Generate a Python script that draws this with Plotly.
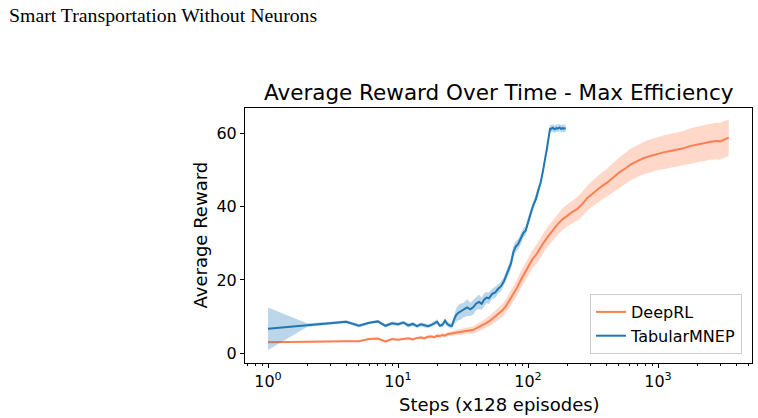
import plotly.graph_objects as go

# ---------------- data ----------------
tab_x = [1, 2, 3, 4, 5, 6, 7, 8, 9, 10, 11, 12, 13, 14, 15, 16, 17, 18, 19, 20,
         21, 22, 23, 24, 25, 26, 27, 28, 29, 30, 32, 34, 36, 38, 40, 42, 44, 46, 48, 50,
         53, 56, 59, 62, 65, 68, 71, 74, 77, 80, 84, 88, 92, 96, 100, 105, 110, 115, 120, 125,
         130, 135, 140, 145, 148, 150, 155, 160, 165, 170, 175, 180, 185, 190, 195]
tab_mean = [6.7, 7.7, 8.2, 8.6, 7.5, 8.3, 8.7, 7.5, 8.2, 7.9, 8.4, 7.6, 8.0, 7.4, 7.9, 7.6, 7.4, 7.7, 8.2, 8.6,
            7.5, 7.8, 8.9, 7.9, 7.6, 7.5, 9.2, 10.4, 11.0, 11.3, 11.8, 12.5, 12.0, 12.6, 13.6, 14.0, 13.5, 14.6, 15.2, 15.0,
            16.2, 16.6, 17.6, 18.3, 19.5, 21.2, 23.0, 24.5, 27.5, 29.0, 29.8, 31.2, 32.8, 33.5, 36.0, 38.2, 40.5, 42.0, 44.5, 46.5,
            49.5, 52.3, 56.0, 59.5, 61.4, 61.2, 61.5, 61.1, 61.4, 61.3, 61.6, 61.2, 61.4, 61.3, 61.4]
tab_spread = [5.8, 0.5, 0.4, 0.4, 0.5, 0.4, 0.4, 0.5, 0.5, 0.5, 0.5, 0.6, 0.5, 0.5, 0.5, 0.6, 0.5, 0.5, 0.6, 0.7,
              0.5, 0.6, 0.7, 0.6, 0.7, 0.8, 1.2, 1.8, 2.0, 2.2, 2.0, 2.3, 1.8, 2.0, 1.8, 2.0, 1.6, 1.8, 1.5, 1.6,
              1.4, 1.5, 1.2, 1.3, 1.2, 1.3, 1.4, 1.5, 1.6, 1.5, 1.4, 1.5, 1.3, 1.2, 1.2, 1.1, 1.0, 1.0, 1.0, 0.9,
              0.9, 0.9, 1.0, 1.0, 1.1, 1.0, 1.0, 1.0, 1.0, 1.0, 1.0, 1.0, 1.0, 1.0, 1.0]

deep_x = [1, 2, 3, 4, 5, 6, 7, 8, 9, 10, 11, 12, 13, 14, 15, 16, 17, 18, 19, 20,
          21, 22, 23, 24, 25, 27, 29, 31, 34, 38, 42, 45, 48, 51, 54, 57, 60, 64, 68, 72,
          77, 82, 88, 94, 100, 108, 116, 124, 132, 142, 155, 170, 185, 200, 220, 240, 260, 285, 310, 340,
          370, 400, 430, 470, 510, 560, 610, 680, 770, 870, 980, 1100, 1240, 1400, 1570, 1750, 1990, 2250, 2520, 2800,
          3000, 3200, 3400, 3500]
deep_mean = [3.0, 3.2, 3.4, 3.3, 3.3, 3.9, 4.0, 3.2, 3.9, 3.7, 3.9, 4.1, 3.8, 4.2, 4.3, 4.1, 4.5, 4.6, 4.4, 4.8,
             4.7, 5.0, 4.8, 5.2, 5.3, 5.5, 5.8, 5.9, 6.2, 6.4, 7.2, 7.7, 8.3, 8.9, 9.5, 10.3, 11.0, 11.8, 13.0, 14.4,
             16.0, 17.8, 20.0, 21.8, 23.8, 25.6, 27.0, 28.8, 30.2, 31.8, 33.5, 35.3, 36.6, 37.6, 38.6, 39.4, 40.6, 42.3, 43.4, 44.6,
             45.6, 46.4, 47.3, 48.4, 49.5, 50.4, 51.4, 52.3, 53.2, 53.8, 54.4, 54.8, 55.2, 55.6, 55.9, 56.5, 57.0, 57.3, 57.7, 57.9,
             57.8, 58.3, 58.6, 58.8]
deep_spread = [0.2, 0.2, 0.2, 0.2, 0.2, 0.3, 0.3, 0.3, 0.3, 0.3, 0.3, 0.3, 0.3, 0.3, 0.4, 0.4, 0.4, 0.4, 0.4, 0.5,
               0.5, 0.5, 0.5, 0.5, 0.6, 0.6, 0.7, 0.8, 0.9, 1.0, 1.1, 1.2, 1.3, 1.4, 1.5, 1.6, 1.7, 1.8, 1.9, 2.0,
               2.1, 2.2, 2.3, 2.4, 2.5, 2.5, 2.6, 2.6, 2.7, 2.7, 2.8, 2.9, 3.0, 3.0, 3.1, 3.2, 3.3, 3.4, 3.5, 3.6,
               3.7, 3.8, 3.9, 4.0, 4.1, 4.2, 4.3, 4.3, 4.4, 4.5, 4.5, 4.6, 4.6, 4.7, 4.7, 4.8, 4.8, 4.9, 4.9, 5.0,
               5.0, 5.0, 5.0, 5.0]

x_tick_vals = [1, 10, 100, 1000]
x_tick_text = ["10<sup>0</sup>", "10<sup>1</sup>", "10<sup>2</sup>", "10<sup>3</sup>"]
y_tick_vals = [0, 20, 40, 60]

DEEP_COLOR = "#FF7F50"
DEEP_BAND = "rgba(255,127,80,0.3)"
TAB_COLOR = "#1f77b4"
TAB_BAND = "rgba(31,119,180,0.3)"

W, H = 758, 418
def px(v):
    return v / W
def py(v):
    return 1 - v / H

fig = go.Figure()

def add_series(xs, mean, spread, color, band, name):
    upper = [m + s for m, s in zip(mean, spread)]
    lower = [m - s for m, s in zip(mean, spread)]
    fig.add_trace(go.Scatter(x=xs, y=upper, mode="lines", line=dict(width=0, color=band),
                             showlegend=False, hoverinfo="skip"))
    fig.add_trace(go.Scatter(x=xs, y=lower, mode="lines", line=dict(width=0, color=band),
                             fill="tonexty", fillcolor=band, showlegend=False, hoverinfo="skip"))
    fig.add_trace(go.Scatter(x=xs, y=mean, mode="lines", line=dict(width=2, color=color), name=name))

add_series(deep_x, deep_mean, deep_spread, DEEP_COLOR, DEEP_BAND, "DeepRL")
add_series(tab_x, tab_mean, tab_spread, TAB_COLOR, TAB_BAND, "TabularMNEP")

minor_vals = []
for dec in [0.1, 1, 10, 100, 1000]:
    for k in range(2, 10):
        v = k * dec
        if 0.67 < v < 5200:
            minor_vals.append(v)

font_main = "DejaVu Sans"

fig.update_layout(
    width=W, height=H,
    margin=dict(l=0, r=0, t=0, b=0),
    paper_bgcolor="white", plot_bgcolor="white",
    showlegend=True,
    legend=dict(x=px(742), xanchor="right", y=py(354), yanchor="bottom",
                traceorder="normal",
                bgcolor="rgba(255,255,255,0.8)", bordercolor="#cccccc", borderwidth=1,
                font=dict(family=font_main, size=16, color="black")),
    xaxis=dict(type="log", domain=[px(245), px(752)], range=[-0.177, 3.723],
               tickvals=x_tick_vals, ticktext=x_tick_text,
               ticks="outside", ticklen=4, tickwidth=1, tickcolor="black",
               showline=True, linecolor="black", linewidth=1, mirror=True,
               showgrid=False, zeroline=False,
               tickfont=dict(family=font_main, size=16, color="black"),
               minor=dict(tickvals=minor_vals, ticks="outside", ticklen=2, tickwidth=0.8,
                          tickcolor="black", showgrid=False)),
    yaxis=dict(domain=[py(363), py(108)], range=[-2.65, 66.9],
               tickvals=y_tick_vals,
               ticks="outside", ticklen=4, tickwidth=1, tickcolor="black",
               showline=True, linecolor="black", linewidth=1, mirror=True,
               showgrid=False, zeroline=False,
               tickfont=dict(family=font_main, size=16, color="black")),
    annotations=[
        dict(text="Smart Transportation Without Neurons", x=px(7), y=py(1.5), xref="paper", yref="paper",
             xanchor="left", yanchor="top", showarrow=False,
             font=dict(family="Liberation Serif", size=19.8, color="black")),
        dict(text="Average Reward Over Time - Max Efficiency", x=px(498.5), y=py(107), xref="paper", yref="paper",
             xanchor="center", yanchor="bottom", showarrow=False,
             font=dict(family=font_main, size=21.5, color="black")),
        dict(text="Average Reward", x=px(200), y=py(235.5), xref="paper", yref="paper",
             xanchor="center", yanchor="middle", textangle=-90, showarrow=False,
             font=dict(family=font_main, size=18, color="black")),
        dict(text="Steps (x128 episodes)", x=px(499), y=py(404), xref="paper", yref="paper",
             xanchor="center", yanchor="middle", showarrow=False,
             font=dict(family=font_main, size=18, color="black")),
    ],
)

fig.write_html("out.html")
